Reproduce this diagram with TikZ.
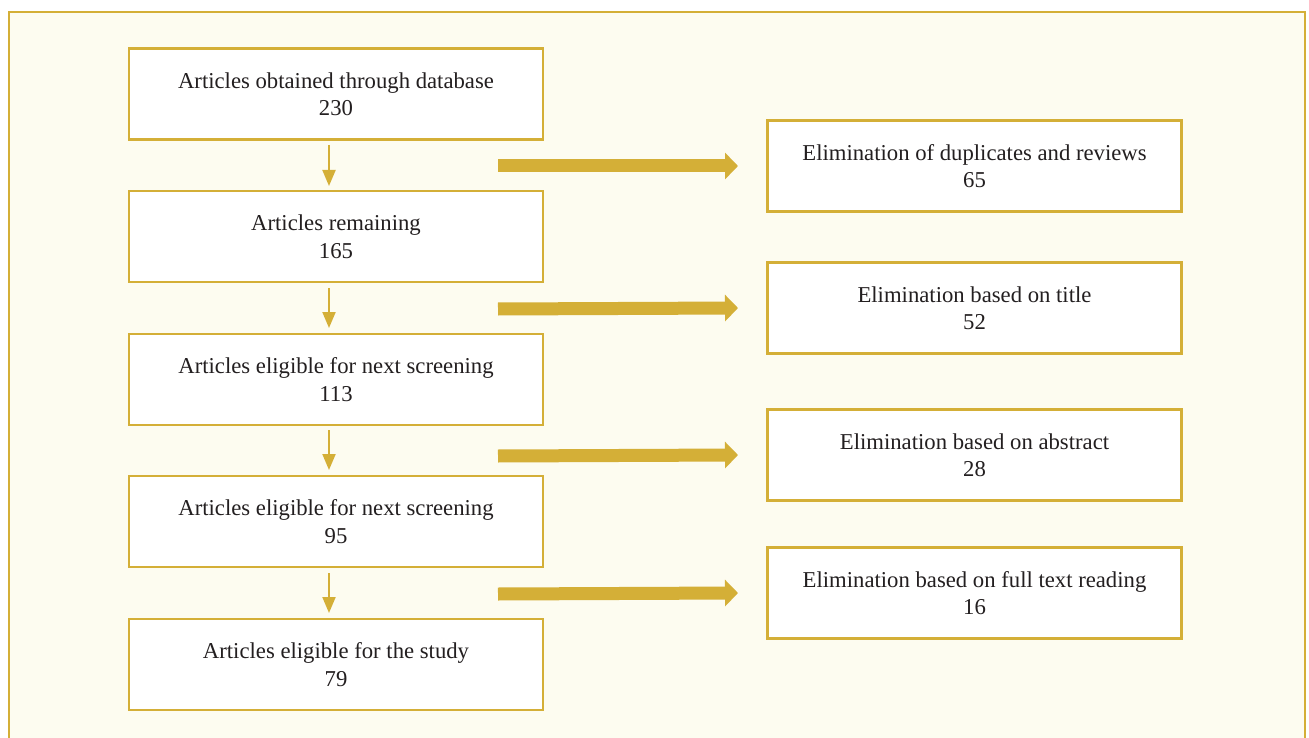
\documentclass[tikz,border=0pt]{standalone}
\usepackage{fontspec}
\setmainfont{Liberation Serif}
\usetikzlibrary{arrows.meta}
\definecolor{gold}{RGB}{212,175,55}
\definecolor{bgc}{RGB}{253,252,240}
\definecolor{txt}{RGB}{35,31,32}
\begin{document}
\begin{tikzpicture}[x=1pt,y=-1pt,
  box/.style={draw=gold,line width=2.8pt,fill=white,minimum width=414pt,minimum height=91pt,inner sep=0pt,align=center,font=\fontsize{22.7}{27.5}\selectfont,text=txt},
  small/.style={draw=gold,line width=2pt,-{Triangle[width=13pt,length=16pt]}},
  big/.style={draw=gold,line width=13pt,-{Triangle[width=26pt,length=13pt]}}]
\useasboundingbox (0,0) rectangle (1309,738);
\begin{scope}
\clip (0,0) rectangle (1309,738);
\draw[gold,line width=2.5pt,fill=bgc] (9,12) rectangle (1305,760);
\end{scope}
\node[box] (l1) at (336,94) {Articles obtained through database\\230};
\node[box] (l2) at (336,236.5) {Articles remaining\\165};
\node[box] (l3) at (336,379.5) {Articles eligible for next screening\\113};
\node[box] (l4) at (336,521.5) {Articles eligible for next screening\\95};
\node[box] (l5) at (336,664.5) {Articles eligible for the study\\79};
\node[box] (r1) at (974.5,166) {Elimination of duplicates and reviews\\65};
\node[box] (r2) at (974.5,308) {Elimination based on title\\52};
\node[box] (r3) at (974.5,455) {Elimination based on abstract\\28};
\node[box] (r4) at (974.5,593) {Elimination based on full text reading\\16};
\coordinate (s1a) at (329,145); \coordinate (s1b) at (329,186);
\coordinate (s2a) at (329,288); \coordinate (s2b) at (329,328);
\coordinate (s3a) at (329,430); \coordinate (s3b) at (329,470);
\coordinate (s4a) at (329,573); \coordinate (s4b) at (329,613);
\draw[small] (s1a) -- (s1b);
\draw[small] (s2a) -- (s2b);
\draw[small] (s3a) -- (s3b);
\draw[small] (s4a) -- (s4b);
\coordinate (b1) at (498,166);
\coordinate (b2) at (498,309);
\coordinate (b3) at (498,456);
\coordinate (b4) at (498,594);
\draw[big] (b1) -- (r1.west -| 738,0);
\draw[big] (b2) -- (r2.west -| 738,0);
\draw[big] (b3) -- (r3.west -| 738,0);
\draw[big] (b4) -- (r4.west -| 738,0);
\end{tikzpicture}
\end{document}
